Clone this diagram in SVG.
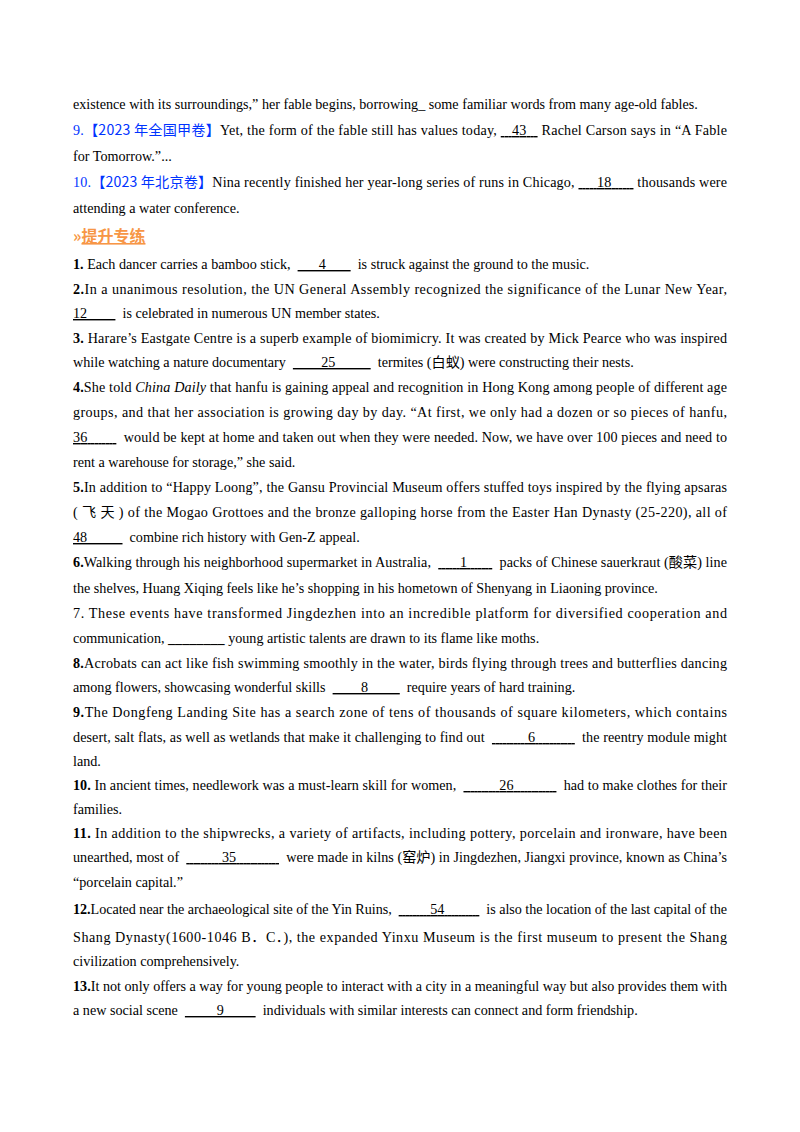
<svg xmlns="http://www.w3.org/2000/svg" width="800" height="1132" viewBox="0 0 800 1132">
<style>
text{font-family:"Liberation Serif","Noto Sans CJK SC",serif;font-size:14.15px;fill:#000;white-space:pre}
.b{font-weight:bold}
.u{text-decoration:underline}
.blue{fill:#0033ff}
.cjk{font-family:"Noto Sans CJK SC",sans-serif}
.hd{font-family:"Noto Sans CJK SC",sans-serif;font-size:16px;fill:#f79646;font-weight:bold}
</style>
<rect width="800" height="1132" fill="#fff"/>
<g id="page">
<text x="73" y="109">existence with its surroundings,” her fable begins, borrowing_ some familiar words from many age-old fables.</text>
<text x="73" y="135" textLength="654" lengthAdjust="spacing"><tspan class="blue">9.</tspan><tspan class="blue cjk">【2023 年全国甲卷】</tspan>Yet, the form of the fable still has values today, <tspan class="u">   43   </tspan> Rachel Carson says in “A Fable</text>
<text x="73" y="161">for Tomorrow.”...</text>
<text x="73" y="187" textLength="654" lengthAdjust="spacing"><tspan class="blue">10.</tspan><tspan class="blue cjk">【2023 年北京卷】</tspan>Nina recently finished her year-long series of runs in Chicago, <tspan class="u">     18      </tspan> thousands were</text>
<text x="73" y="213">attending a water conference.</text>
<text x="73" y="242" class="hd"><tspan>»</tspan><tspan class="u">提升专练</tspan></text>
<text x="73" y="269"><tspan class="b">1.</tspan> Each dancer carries a bamboo stick,  <tspan class="u">      4       </tspan>  is struck against the ground to the music.</text>
<text x="73" y="294" textLength="654" lengthAdjust="spacing"><tspan class="b">2.</tspan>In a unanimous resolution, the UN General Assembly recognized the significance of the Lunar New Year,</text>
<text x="73" y="318"><tspan class="u">12        </tspan>  is celebrated in numerous UN member states.</text>
<text x="73" y="343" textLength="654" lengthAdjust="spacing"><tspan class="b">3.</tspan> Harare’s Eastgate Centre is a superb example of biomimicry. It was created by Mick Pearce who was inspired</text>
<text x="73" y="367">while watching a nature documentary  <tspan class="u">        25          </tspan>  termites (白蚁) were constructing their nests.</text>
<text x="73" y="392" textLength="654" lengthAdjust="spacing"><tspan class="b">4.</tspan>She told <tspan font-style="italic">China Daily</tspan> that hanfu is gaining appeal and recognition in Hong Kong among people of different age</text>
<text x="73" y="417" textLength="654" lengthAdjust="spacing">groups, and that her association is growing day by day. “At first, we only had a dozen or so pieces of hanfu,</text>
<text x="73" y="442" textLength="654" lengthAdjust="spacing"><tspan class="u">36        </tspan>  would be kept at home and taken out when they were needed. Now, we have over 100 pieces and need to</text>
<text x="73" y="467">rent a warehouse for storage,” she said.</text>
<text x="73" y="492" textLength="654" lengthAdjust="spacing"><tspan class="b">5.</tspan>In addition to “Happy Loong”, the Gansu Provincial Museum offers stuffed toys inspired by the flying apsaras</text>
<text x="73" y="517" textLength="654" lengthAdjust="spacing">( 飞 天 ) of the Mogao Grottoes and the bronze galloping horse from the Easter Han Dynasty (25-220), all of</text>
<text x="73" y="542"><tspan class="u">48          </tspan>  combine rich history with Gen-Z appeal.</text>
<text x="73" y="567" textLength="654" lengthAdjust="spacing"><tspan class="b">6.</tspan>Walking through his neighborhood supermarket in Australia,  <tspan class="u">      1       </tspan>  packs of Chinese sauerkraut (酸菜) line</text>
<text x="73" y="593">the shelves, Huang Xiqing feels like he’s shopping in his hometown of Shenyang in Liaoning province.</text>
<text x="73" y="618" textLength="654" lengthAdjust="spacing">7. These events have transformed Jingdezhen into an incredible platform for diversified cooperation and</text>
<text x="73" y="643">communication, <tspan class="b">________</tspan> young artistic talents are drawn to its flame like moths.</text>
<text x="73" y="668" textLength="654" lengthAdjust="spacing"><tspan class="b">8.</tspan>Acrobats can act like fish swimming smoothly in the water, birds flying through trees and butterflies dancing</text>
<text x="73" y="692">among flowers, showcasing wonderful skills  <tspan class="u">        8         </tspan>  require years of hard training.</text>
<text x="73" y="717" textLength="654" lengthAdjust="spacing"><tspan class="b">9.</tspan>The Dongfeng Landing Site has a search zone of tens of thousands of square kilometers, which contains</text>
<text x="73" y="742" textLength="654" lengthAdjust="spacing">desert, salt flats, as well as wetlands that make it challenging to find out  <tspan class="u">          6           </tspan>  the reentry module might</text>
<text x="73" y="766">land.</text>
<text x="73" y="790" textLength="654" lengthAdjust="spacing"><tspan class="b">10.</tspan> In ancient times, needlework was a must-learn skill for women,  <tspan class="u">          26            </tspan>  had to make clothes for their</text>
<text x="73" y="814">families.</text>
<text x="73" y="838" textLength="654" lengthAdjust="spacing"><tspan class="b">11.</tspan> In addition to the shipwrecks, a variety of artifacts, including pottery, porcelain and ironware, have been</text>
<text x="73" y="862" textLength="654" lengthAdjust="spacing">unearthed, most of  <tspan class="u">          35            </tspan>  were made in kilns (窑炉) in Jingdezhen, Jiangxi province, known as China’s</text>
<text x="73" y="887">“porcelain capital.”</text>
<text x="73" y="914" textLength="654" lengthAdjust="spacing"><tspan class="b">12.</tspan>Located near the archaeological site of the Yin Ruins,  <tspan class="u">         54          </tspan>  is also the location of the last capital of the</text>
<text x="73" y="942" textLength="654" lengthAdjust="spacing">Shang Dynasty(1600-1046 B．C．), the expanded Yinxu Museum is the first museum to present the Shang</text>
<text x="73" y="966">civilization comprehensively.</text>
<text x="73" y="991" textLength="654" lengthAdjust="spacing"><tspan class="b">13.</tspan>It not only offers a way for young people to interact with a city in a meaningful way but also provides them with</text>
<text x="73" y="1015">a new social scene  <tspan class="u">         9         </tspan>  individuals with similar interests can connect and form friendship.</text>
</g>
</svg>
